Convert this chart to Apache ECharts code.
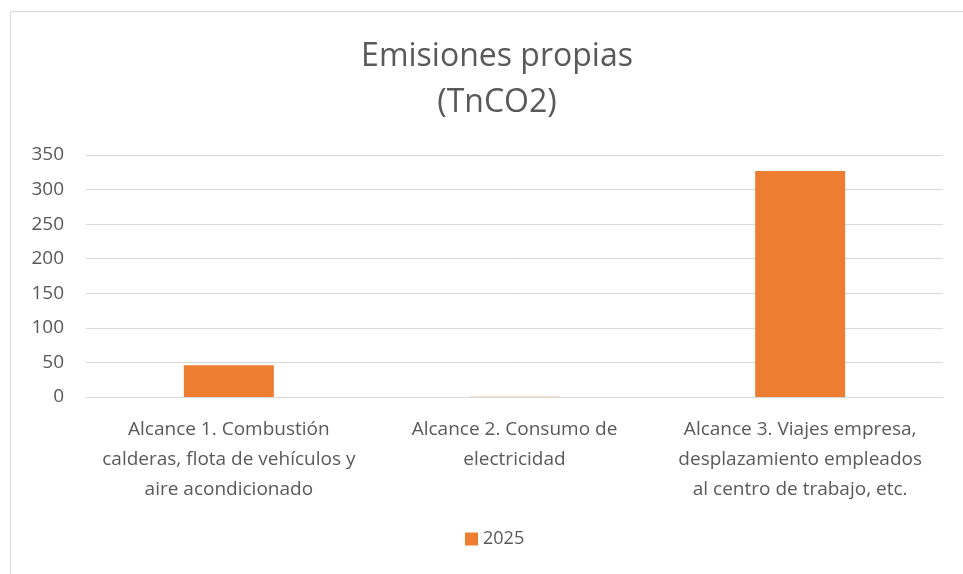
<!DOCTYPE html>
<html>
<head>
<meta charset="utf-8">
<script src="https://cdn.jsdelivr.net/npm/echarts@6/dist/echarts.min.js"></script>
<style>
  html, body { margin: 0; padding: 0; background: #fff; }
  #main { width: 963px; height: 574px; }
</style>
</head>
<body>
<div id="main"></div>
<script>
// categories, as they are wrapped in the original
var categories = [
  'Alcance 1. Combustión\ncalderas, flota de vehículos y\naire acondicionado',
  'Alcance 2. Consumo de\nelectricidad',
  'Alcance 3. Viajes empresa,\ndesplazamiento empleados\nal centro de trabajo, etc.'
];
var values2025 = [46, 0.5, 327];
var seriesName = '2025';
var yTicks = { min: 0, max: 350, interval: 50 };

var chart = echarts.init(document.getElementById('main'));
var font = '"Open Sans", Lato, sans-serif';
var option = {
  animation: false,
  textStyle: { fontFamily: font },
  graphic: [{
    type: 'rect',
    shape: { x: 10.5, y: 11.5, width: 1000, height: 700 },
    style: { fill: 'none', stroke: '#d9d9d9', lineWidth: 1 },
    silent: true
  }],
  title: {
    text: 'Emisiones propias\n(TnCO2)',
    left: 492,
    textAlign: 'center',
    top: 29,
    textStyle: {
      fontFamily: font,
      fontSize: 32,
      fontWeight: 'normal',
      color: '#595959',
      lineHeight: 46
    }
  },
  legend: {
    bottom: 21,
    left: 460,
    icon: 'rect',
    itemWidth: 13,
    itemHeight: 13,
    itemGap: 6,
    textStyle: { fontFamily: font, fontSize: 18, color: '#595959' },
    data: [seriesName]
  },
  grid: { left: 86, right: 20, top: 155, bottom: 177 },
  xAxis: {
    type: 'category',
    data: categories,
    axisLine: { lineStyle: { color: '#d9d9d9', width: 1 } },
    axisTick: { show: false },
    axisLabel: {
      fontFamily: font,
      fontSize: 19,
      color: '#595959',
      lineHeight: 30,
      margin: 18,
      interval: 0
    }
  },
  yAxis: {
    type: 'value',
    min: yTicks.min,
    max: yTicks.max,
    interval: yTicks.interval,
    axisLine: { show: false },
    axisTick: { show: false },
    axisLabel: { fontFamily: font, fontSize: 19, color: '#595959', margin: 22 },
    splitLine: { lineStyle: { color: '#d9d9d9', width: 1 } }
  },
  series: [{
    name: seriesName,
    type: 'bar',
    data: values2025,
    barWidth: '31.5%',
    itemStyle: { color: '#ed7d31' }
  }]
};
chart.setOption(option);
</script>
</body>
</html>
